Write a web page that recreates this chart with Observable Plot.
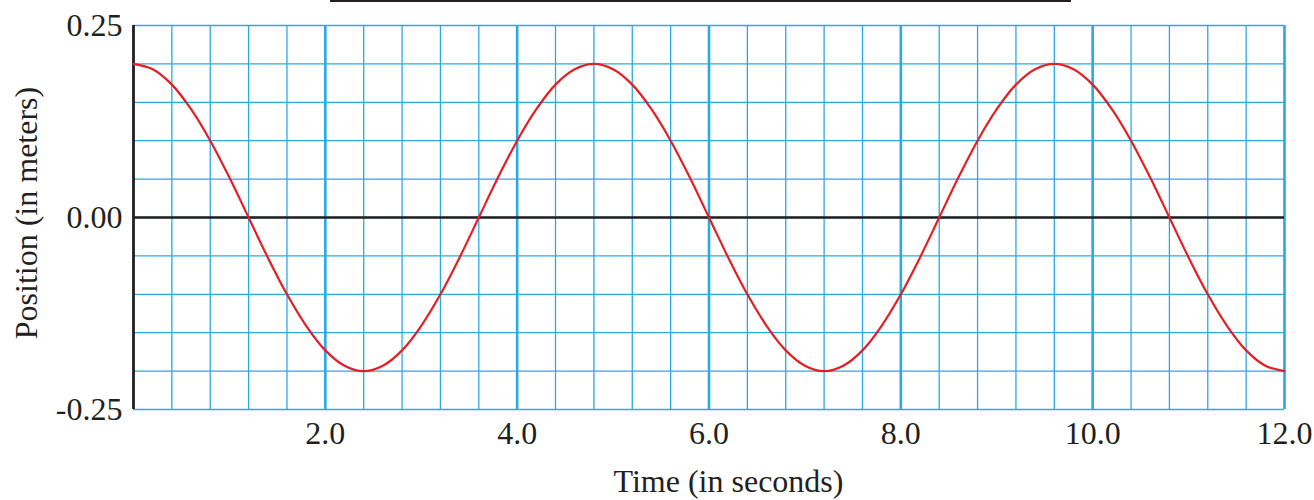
<!DOCTYPE html>
<html>
<head>
<meta charset="utf-8">
<script src="https://cdn.jsdelivr.net/npm/d3@7"></script>
<script src="https://cdn.jsdelivr.net/npm/@observablehq/plot@0.6"></script>
<style>
  html, body { margin: 0; padding: 0; background: #fff; }
  #wrap { position: relative; width: 1314px; height: 500px; overflow: hidden; }
  #titleRule { position: absolute; left: 330px; top: 0px; width: 741px; height: 0; border-top: 2px solid #231f20; }
</style>
</head>
<body>
<div id="wrap"><div id="titleRule"></div></div>
<script>
// Time samples (s) and position (m)
const times = [0.0,0.2,0.4,0.6,0.8,1.0,1.2,1.4,1.6,1.8,2.0,2.2,2.4,2.6,2.8,3.0,3.2,3.4,3.6,3.8,
  4.0,4.2,4.4,4.6,4.8,5.0,5.2,5.4,5.6,5.8,6.0,6.2,6.4,6.6,6.8,7.0,7.2,7.4,7.6,7.8,
  8.0,8.2,8.4,8.6,8.8,9.0,9.2,9.4,9.6,9.8,10.0,10.2,10.4,10.6,10.8,11.0,11.2,11.4,11.6,11.8,12.0];
const positions = [0.200,0.193,0.173,0.141,0.100,0.052,0.000,-0.052,-0.100,-0.141,-0.173,-0.193,-0.200,
  -0.193,-0.173,-0.141,-0.100,-0.052,0.000,0.052,0.100,0.141,0.173,0.193,0.200,
  0.193,0.173,0.141,0.100,0.052,0.000,-0.052,-0.100,-0.141,-0.173,-0.193,-0.200,
  -0.193,-0.173,-0.141,-0.100,-0.052,0.000,0.052,0.100,0.141,0.173,0.193,0.200,
  0.193,0.173,0.141,0.100,0.052,0.000,-0.052,-0.100,-0.141,-0.173,-0.193,-0.200];

const xTickLabels = [2, 4, 6, 8, 10, 12];
const yTickLabels = [-0.25, 0, 0.25];
const xAxisLabel = "Time (in seconds)";
const yAxisLabel = "Position (in meters)";
const xMinorGrid = d3.range(0, 30.5, 1).map(i => +(i * 0.4).toFixed(1));
const xMajorGrid = [2, 4, 6, 8, 10, 12];
const yMinorGrid = d3.range(-5, 5.5, 1).map(i => +(i * 0.05).toFixed(2));

const data = times.map((t, i) => ({t, p: positions[i]}));
const blue = "#29abe2";
const ink = "#231f20";

const chart = Plot.plot({
  width: 1314,
  height: 500,
  marginLeft: 133,
  marginRight: 30,
  marginTop: 25,
  marginBottom: 91,
  style: {fontFamily: "'Liberation Serif', 'Times New Roman', serif", fontSize: "32px", color: ink, background: "transparent"},
  x: {domain: [0, 12]},
  y: {domain: [-0.25, 0.25]},
  marks: [
    Plot.ruleX(xMinorGrid, {stroke: blue, strokeWidth: 1.3}),
    Plot.ruleX(xMajorGrid, {stroke: blue, strokeWidth: 2.6}),
    Plot.ruleY(yMinorGrid, {stroke: blue, strokeWidth: 1.3}),
    Plot.ruleY([0], {stroke: ink, strokeWidth: 2.6}),
    Plot.ruleX([0], {stroke: ink, strokeWidth: 2.8}),
    Plot.line(data, {x: "t", y: "p", stroke: "#e31e24", strokeWidth: 2.2, curve: "catmull-rom"}),
    Plot.axisX(xTickLabels, {tickSize: 0, tickPadding: 12, tickFormat: d => d.toFixed(1), label: null}),
    Plot.axisY(yTickLabels, {tickSize: 0, tickPadding: 11, tickFormat: d => d.toFixed(2), label: null}),
    Plot.text([xAxisLabel], {text: d => d, frameAnchor: "bottom", textAnchor: "middle", lineAnchor: "middle",
      dx: 19.5, dy: 72, fontSize: 32, fill: ink}),
    Plot.text([yAxisLabel], {text: d => d, frameAnchor: "left", textAnchor: "middle", lineAnchor: "middle",
      rotate: -90, dx: -107, dy: -4.5, fontSize: 32, fill: ink})
  ]
});
document.getElementById("wrap").appendChild(chart);
chart.style.position = "absolute";
chart.style.left = "0";
chart.style.top = "0";
</script>
</body>
</html>
